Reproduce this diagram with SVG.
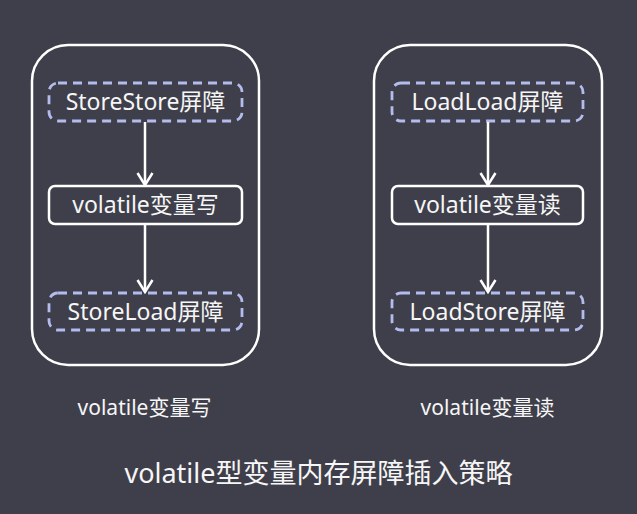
<svg xmlns="http://www.w3.org/2000/svg" width="637" height="514" viewBox="0 0 637 514">
<defs>
<style>
.bg{fill:#3f3f4b}
.outer{fill:none;stroke:#ffffff;stroke-width:2.5}
.barrier{fill:none;stroke:#b4bcee;stroke-width:2.8;stroke-dasharray:9 6}
.op{fill:none;stroke:#ffffff;stroke-width:2.5}
.t{font-family:"Noto Sans","Noto Sans CJK SC",sans-serif;fill:#f6f6f6;text-anchor:middle}
.box{font-size:23px}
.lab{font-size:21px}
.title{font-size:27px}
.edge{stroke:#ffffff;stroke-width:2.5;fill:none}
</style>
<marker id="arr" viewBox="0 0 16 18" refX="14" refY="9" markerWidth="16" markerHeight="18" markerUnits="userSpaceOnUse" orient="auto">
<path d="M2,1.5 L14,9 L2,16.5" fill="none" stroke="#ffffff" stroke-width="2.5"/>
</marker>
</defs>
<rect class="bg" x="0" y="0" width="637" height="514"/>
<g id="write-group">
<rect class="outer" x="32" y="45" width="227" height="320" rx="36"/>
</g>
<g id="read-group">
<rect class="outer" x="374" y="45" width="228" height="320" rx="36"/>
</g>
<g id="storestore">
<rect class="barrier" x="49" y="83" width="193" height="38" rx="9"/>
<text class="t box" x="145.5" y="110">StoreStore屏障</text>
</g>
<g id="vwrite">
<rect class="op" x="49" y="186" width="193" height="38" rx="6"/>
<text class="t box" x="145.5" y="213">volatile变量写</text>
</g>
<g id="storeload">
<rect class="barrier" x="49" y="293" width="193" height="37" rx="9"/>
<text class="t box" x="145.5" y="320">StoreLoad屏障</text>
</g>
<g id="loadload">
<rect class="barrier" x="392" y="83" width="191" height="38" rx="9"/>
<text class="t box" x="487.5" y="110">LoadLoad屏障</text>
</g>
<g id="vread">
<rect class="op" x="392" y="186" width="191" height="38" rx="6"/>
<text class="t box" x="487.5" y="213">volatile变量读</text>
</g>
<g id="loadstore">
<rect class="barrier" x="392" y="293" width="191" height="37" rx="9"/>
<text class="t box" x="487.5" y="320">LoadStore屏障</text>
</g>
<g id="connectors">
<line class="edge" x1="145" y1="122" x2="145" y2="185" marker-end="url(#arr)"/>
<line class="edge" x1="145" y1="225" x2="145" y2="292" marker-end="url(#arr)"/>
<line class="edge" x1="488" y1="122" x2="488" y2="185" marker-end="url(#arr)"/>
<line class="edge" x1="488" y1="225" x2="488" y2="292" marker-end="url(#arr)"/>
</g>
<g id="labels">
<text class="t lab" x="144.5" y="415">volatile变量写</text>
<text class="t lab" x="487.5" y="415">volatile变量读</text>
<text class="t title" x="318.5" y="483">volatile型变量内存屏障插入策略</text>
</g>
</svg>
